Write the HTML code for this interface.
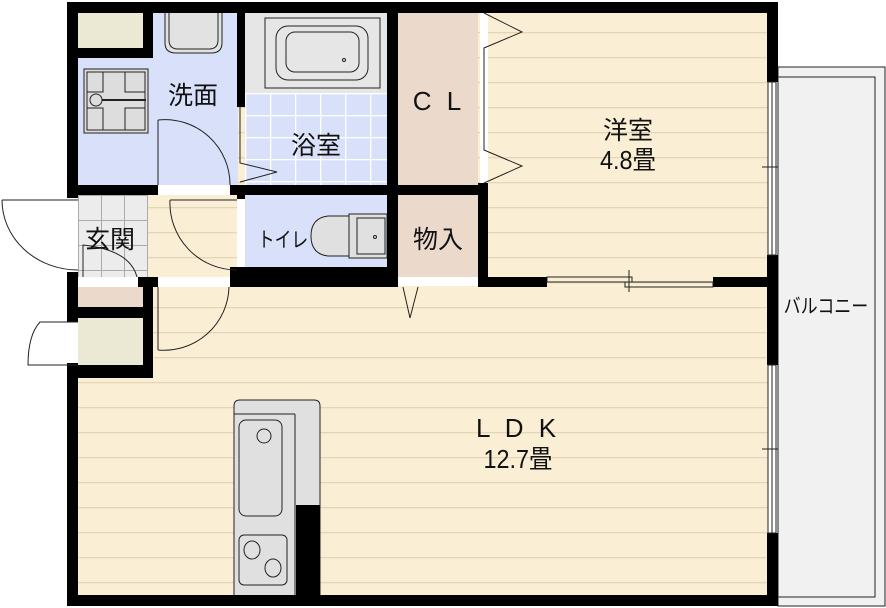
<!DOCTYPE html>
<html><head><meta charset="utf-8"><style>
html,body{margin:0;padding:0;background:#fff;width:886px;height:608px;overflow:hidden}
svg{display:block}
text{font-family:"Liberation Sans","Noto Sans CJK JP",sans-serif;fill:#111}
</style></head><body>
<svg width="886" height="608" viewBox="0 0 886 608" xmlns="http://www.w3.org/2000/svg">
<defs>
<pattern id="fl" x="0" y="7" width="20" height="25" patternUnits="userSpaceOnUse">
<rect width="20" height="25" fill="#faefd4"/><rect y="0" width="20" height="1.3" fill="#e3d6b8"/>
</pattern>
<pattern id="tb" x="245" y="93" width="25" height="22" patternUnits="userSpaceOnUse">
<rect width="25" height="22" fill="#d8e0fa"/><rect width="1.3" height="22" fill="#fff"/><rect width="25" height="1.3" fill="#fff"/>
</pattern>
<pattern id="tg" x="78" y="195" width="23" height="25" patternUnits="userSpaceOnUse">
<rect width="23" height="25" fill="#ececec"/><rect width="1" height="25" fill="#aaa"/><rect width="23" height="1" fill="#aaa"/>
</pattern>
</defs>
<rect x="778" y="67" width="107" height="539" fill="#f1f1f1" stroke="#222" stroke-width="1"/>
<rect x="778" y="77" width="97" height="520" fill="none" stroke="#222" stroke-width="1"/>
<rect x="78" y="13" width="690" height="583" fill="url(#fl)"/>
<rect x="78" y="13" width="160" height="172" fill="#d8e0fa"/>
<rect x="78" y="13" width="66" height="36" fill="#ebe9d3"/>
<rect x="245" y="13" width="142" height="172" fill="url(#tb)"/>
<rect x="245" y="13" width="142" height="80" fill="#e6e6e6"/>
<rect x="398" y="13" width="80" height="172" fill="#ebd9cc"/>
<rect x="78" y="195" width="70" height="82" fill="url(#tg)"/>
<rect x="245" y="195" width="142" height="82" fill="#d8e0fa"/>
<rect x="398" y="195" width="80" height="82" fill="#ebd9cc"/>
<rect x="78" y="287" width="65" height="20" fill="#ebd9cc"/>
<rect x="78" y="318" width="65" height="47" fill="#ebe9d3"/>
<rect x="265" y="18" width="115" height="70" fill="none" stroke="#222"/>
<rect x="276" y="26" width="92" height="54" rx="12" fill="none" stroke="#222"/>
<rect x="286" y="32" width="73" height="40" rx="9" fill="none" stroke="#222"/>
<circle cx="344" cy="60" r="1.5" fill="none" stroke="#222"/>
<path d="M165 13 V43 Q165 53 176 53 H211 Q222 53 222 43 V13" fill="#e2e2e2" stroke="#222"/>
<path d="M169 13 V40 Q169 49 178 49 H209 Q218 49 218 40 V13" fill="none" stroke="#222"/>
<rect x="84" y="69" width="64" height="64" fill="#ddd" stroke="#222"/>
<rect x="87" y="72" width="58" height="58" fill="none" stroke="#222"/>
<circle cx="96" cy="100" r="6" fill="none" stroke="#222"/>
<line x1="102" y1="100" x2="146" y2="100" stroke="#222" stroke-width="2"/>
<path d="M87 92 H103 V72 M125 72 V92 H145 M145 108 H125 V130 M103 130 V108 H87" fill="none" stroke="#222"/>
<path d="M355 216 H328 Q311 218 311 236 Q311 254 328 256 H355 Z" fill="#e0e0e0" stroke="#222"/>
<rect x="349" y="214" width="38" height="44" fill="#e0e0e0" stroke="#222"/>
<rect x="357" y="218" width="28" height="36" fill="none" stroke="#222"/>
<circle cx="375" cy="237" r="1.5" fill="none" stroke="#222"/>
<path d="M234 596 V406 Q234 400 240 400 H314 Q320 400 320 406 V596 Z" fill="#e0e0e0" stroke="#222"/>
<line x1="234" y1="414" x2="295" y2="414" stroke="#222"/>
<line x1="295" y1="414" x2="295" y2="596" stroke="#222"/>
<rect x="296" y="505" width="24" height="91" fill="#000"/>
<rect x="239" y="420" width="43" height="96" rx="7" fill="none" stroke="#222"/>
<ellipse cx="264" cy="436" rx="7" ry="7" fill="none" stroke="#222"/>
<rect x="239" y="535" width="48" height="50" rx="5" fill="none" stroke="#222"/>
<ellipse cx="252" cy="550" rx="8" ry="9" fill="none" stroke="#222"/>
<ellipse cx="273" cy="568" rx="8" ry="9" fill="none" stroke="#222"/>
<g fill="#000">
<rect x="67" y="2" width="711" height="11"/>
<rect x="67" y="595" width="711" height="11"/>
<rect x="67" y="2" width="11" height="196"/>
<rect x="67" y="272" width="11" height="50"/>
<rect x="67" y="363" width="11" height="243"/>
<rect x="767" y="2" width="11" height="80"/>
<rect x="767" y="255" width="11" height="110"/>
<rect x="767" y="533" width="11" height="73"/>
<rect x="78" y="48" width="75" height="10"/>
<rect x="143" y="13" width="10" height="45"/>
<rect x="237" y="13" width="8" height="94"/>
<rect x="387" y="13" width="11" height="274"/>
<rect x="67" y="185" width="91" height="10"/>
<rect x="230" y="185" width="257" height="10"/>
<rect x="230" y="267" width="168" height="20"/>
<rect x="237" y="185" width="8" height="14"/>
<rect x="478" y="183" width="10" height="104"/>
<rect x="478" y="277" width="69" height="10"/>
<rect x="713" y="277" width="65" height="10"/>
<rect x="138" y="277" width="20" height="10"/>
<rect x="143" y="277" width="10" height="101"/>
<rect x="67" y="307" width="86" height="11"/>
<rect x="67" y="365" width="86" height="13"/>
</g>
<rect x="237" y="199" width="8" height="68" fill="#fff"/>
<rect x="158" y="185" width="72" height="10" fill="#fff"/>
<rect x="158" y="277" width="72" height="10" fill="#fff"/>
<rect x="398" y="277" width="80" height="9" fill="#fff"/>
<rect x="78" y="277" width="60" height="10" fill="#fff"/>
<rect x="480" y="13" width="8" height="170" fill="#fff"/>
<g fill="none" stroke="#222" stroke-width="1">
<path d="M158 120 V185 M158 120 A65 65 0 0 1 230 185"/>
<path d="M170 200 H237 M170 200 A67 67 0 0 0 237 270"/>
<path d="M158 287 V350 M158 350 A65 65 0 0 0 229 287"/>
<path d="M78 200 H2 M2 200 A76 70 0 0 0 78 270"/>
<path d="M78 322 H40 Q28 335 28 365 H78"/>
<path d="M83 277 V245 Q130 250 137 277"/>
<path d="M240 107 V163 L277 172 L240 182"/>
<path d="M403 287 L410 318 L418 287"/>
<path d="M484 13 L522 32 L484 48 V150 L522 166 L484 183"/>
<rect x="547" y="277" width="85" height="5"/>
<rect x="625" y="282" width="88" height="5"/>
<line x1="629" y1="270" x2="629" y2="292"/>
<rect x="768" y="82" width="8" height="173"/><line x1="772" y1="82" x2="772" y2="255"/>
<rect x="768" y="365" width="8" height="168"/><line x1="772" y1="365" x2="772" y2="533"/>
<line x1="762" y1="167" x2="778" y2="167"/><line x1="762" y1="449" x2="778" y2="449"/>
</g>
<text x="193" y="104" font-size="25" text-anchor="middle">洗面</text>
<text x="316" y="154" font-size="25" text-anchor="middle">浴室</text>
<text x="439" y="110" font-size="26" text-anchor="middle" letter-spacing="4">C L</text>
<text x="110" y="248" font-size="25" text-anchor="middle">玄関</text>
<text x="283" y="247" font-size="21" text-anchor="middle" transform="translate(283 0) scale(0.8 1) translate(-283 0)">トイレ</text>
<text x="438" y="248" font-size="25" text-anchor="middle">物入</text>
<text x="628" y="139" font-size="25" text-anchor="middle">洋室</text>
<text x="628" y="169" font-size="26" text-anchor="middle" transform="translate(628 0) scale(0.9 1) translate(-628 0)">4.8畳</text>
<text x="518" y="437" font-size="26" text-anchor="middle" letter-spacing="4">L D K</text>
<text x="518" y="468" font-size="26" text-anchor="middle" transform="translate(518 0) scale(0.9 1) translate(-518 0)">12.7畳</text>
<text x="826" y="313" font-size="20" text-anchor="middle" transform="translate(826 0) scale(0.85 1) translate(-826 0)">バルコニー</text>
</svg>
</body></html>
